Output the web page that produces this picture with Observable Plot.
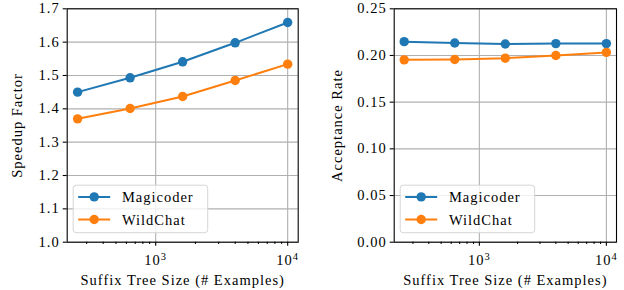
<!DOCTYPE html>
<html>
<head>
<meta charset="utf-8">
<script src="https://cdn.jsdelivr.net/npm/d3@7"></script>
<script src="https://cdn.jsdelivr.net/npm/@observablehq/plot@0.6"></script>
<style>
  html, body { margin: 0; padding: 0; background: #fff; }
  #wrap { position: relative; width: 624px; height: 290px; }
  #wrap > svg { position: absolute; top: 0; overflow: visible; }
  #wrap svg, #wrap svg text { font-family: "Liberation Serif", serif; font-size: 14.5px; letter-spacing: 1px; }
</style>
</head>
<body>
<div id="wrap"></div>
<script>
// ---- data ----
const seriesNames = ["Magicoder", "WildChat"];
const seriesColors = ["#1f77b4", "#ff7f0e"];
const sizes = [256, 640, 1600, 4000, 10000];
const speedupMagicoder = [1.450, 1.493, 1.541, 1.598, 1.659];
const speedupWildChat = [1.370, 1.401, 1.437, 1.485, 1.534];
const accMagicoder = [0.2148, 0.2134, 0.2123, 0.2127, 0.2127];
const accWildChat = [0.1953, 0.1957, 0.1971, 0.2000, 0.2033];
const xMajorTicks = [1000, 10000];
const xMinorTicks = [300, 400, 500, 600, 700, 800, 900, 2000, 3000, 4000, 5000, 6000, 7000, 8000, 9000];
const speedupTicks = [1.0, 1.1, 1.2, 1.3, 1.4, 1.5, 1.6, 1.7];
const accTicks = [0.00, 0.05, 0.10, 0.15, 0.20, 0.25];
const xLabel = "Suffix Tree Size (# Examples)";

function rows(a, b) {
  return sizes.flatMap((s, i) => [
    {size: s, value: a[i], series: seriesNames[0]},
    {size: s, value: b[i], series: seriesNames[1]}
  ]);
}

const FONT = "Liberation Serif, serif";
const FS = 14.5;

function panel({data, yDomain, yTicks, yFmt, yLabel, yLabelOffset, marginLeft, marginRight}) {
  const svg = Plot.plot({
    width: 312, height: 290,
    marginLeft, marginRight, marginTop: 8.3, marginBottom: 48.3,
    style: {fontFamily: FONT, fontSize: FS + "px", color: "#000", background: "transparent", overflow: "visible"},
    x: {type: "log", domain: [213.6, 12014]},
    y: {domain: yDomain},
    color: {domain: seriesNames, range: seriesColors},
    marks: [
      Plot.gridX(xMajorTicks, {stroke: "#b0b0b0", strokeOpacity: 1, strokeWidth: 1.1}),
      Plot.gridY(yTicks, {stroke: "#b0b0b0", strokeOpacity: 1, strokeWidth: 1.1}),
      Plot.axisX(xMinorTicks, {tickSize: 2.3, tickFormat: () => "", label: null, strokeWidth: 1}),
      Plot.axisX(xMajorTicks, {tickSize: 4, tickPadding: 8.3, strokeWidth: 1.1,
        tickFormat: d => "10^" + Math.round(Math.log10(d)),
        label: xLabel, labelAnchor: "center", labelArrow: "none", labelOffset: 42.5}),
      Plot.axisY(yTicks, {tickSize: 4, tickPadding: 3.5, strokeWidth: 1.1, tickFormat: yFmt,
        label: yLabel, labelAnchor: "center", labelArrow: "none", labelOffset: yLabelOffset}),
      Plot.line(data, {x: "size", y: "value", stroke: "series", strokeWidth: 2}),
      Plot.dot(data, {x: "size", y: "value", fill: "series", r: 4.7}),
      Plot.frame({stroke: "#000", strokeWidth: 1.1})
    ]
  });
  svg.setAttribute("font-family", FONT);
  svg.setAttribute("font-size", FS);
  // superscript exponents on log tick labels
  d3.select(svg).selectAll("text").each(function() {
    const t = d3.select(this);
    const s = t.text();
    if (/^10\^\d$/.test(s)) {
      const [base, exp] = s.split("^");
      t.text(base);
      t.append("tspan").attr("style", "font-size:10.5px").attr("dy", "-5").text(exp);
    }
  });
  // legend (inside frame, lower left)
  const fx = marginLeft, fb = 290 - 48.3;
  const lx = fx + 6.5, ly = fb - 9 - 47.5;
  const g = d3.select(svg).append("g").attr("font-family", FONT).attr("font-size", FS).attr("text-anchor", "start");
  g.append("rect").attr("x", lx).attr("y", ly).attr("width", 134.5).attr("height", 47.5)
    .attr("rx", 3).attr("fill", "#fff").attr("fill-opacity", 0.8)
    .attr("stroke", "#d6d6d6").attr("stroke-width", 1);
  seriesNames.forEach((name, i) => {
    const cy = ly + 11.7 + i * 22.6;
    g.append("line").attr("x1", lx + 5).attr("x2", lx + 37).attr("y1", cy).attr("y2", cy)
      .attr("stroke", seriesColors[i]).attr("stroke-width", 2);
    g.append("circle").attr("cx", lx + 21).attr("cy", cy).attr("r", 4.7).attr("fill", seriesColors[i]);
    g.append("text").attr("x", lx + 48.7).attr("y", cy).attr("dy", "0.35em")
      .attr("text-anchor", "start").attr("fill", "#000").text(name);
  });
  return svg;
}

const left = panel({
  data: rows(speedupMagicoder, speedupWildChat),
  yDomain: [1.0, 1.7], yTicks: speedupTicks, yFmt: d3.format(".1f"),
  yLabel: "Speedup Factor", yLabelOffset: 55.6, marginLeft: 66.7, marginRight: 14.3
});
const right = panel({
  data: rows(accMagicoder, accWildChat),
  yDomain: [0, 0.25], yTicks: accTicks, yFmt: d3.format(".2f"),
  yLabel: "Acceptance Rate", yLabelOffset: 62.1, marginLeft: 81.7, marginRight: 8
});
left.style.left = "0px";
right.style.left = "312px";
document.getElementById("wrap").append(left, right);
</script>
</body>
</html>
